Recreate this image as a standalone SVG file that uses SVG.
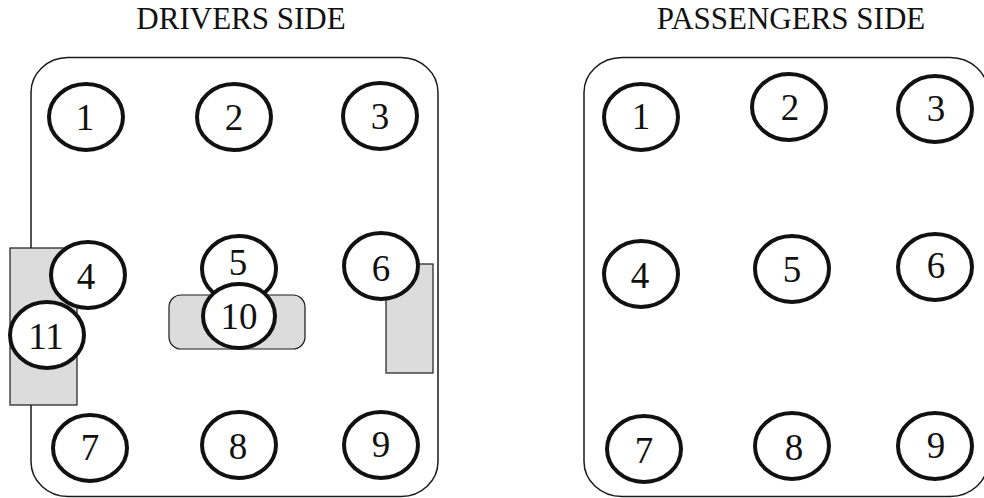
<svg xmlns="http://www.w3.org/2000/svg" width="984" height="498" viewBox="0 0 984 498">
<style>
.box{fill:#fff;stroke:#1a1a1a;stroke-width:1.5}
.pad{fill:#dcdcdc;stroke:#1a1a1a;stroke-width:1.2}
.c{fill:#fff;stroke:#111;stroke-width:4}
.n{font-family:"Liberation Serif","Times New Roman",serif;font-size:37px;fill:#111;text-anchor:middle}
.t{font-family:"Liberation Serif","Times New Roman",serif;font-size:31px;fill:#111;text-anchor:middle}
</style>
<rect width="984" height="498" fill="#fff"/>
<text class="t" x="241" y="29">DRIVERS SIDE</text>
<text class="t" x="791" y="29">PASSENGERS SIDE</text>
<g id="drivers">
<rect class="box" x="31" y="57.5" width="407" height="439" rx="37" ry="35"/>
<rect class="pad" x="10" y="248" width="67" height="157"/>
<rect class="pad" x="169" y="295" width="136" height="54" rx="12"/>
<rect class="pad" x="386" y="264" width="47" height="109"/>
<g id="d1"><ellipse class="c" cx="86" cy="117" rx="37" ry="33"/><text class="n" x="85" y="130">1</text></g>
<g id="d2"><ellipse class="c" cx="234" cy="117" rx="37" ry="33"/><text class="n" x="234" y="130">2</text></g>
<g id="d3"><ellipse class="c" cx="380" cy="116" rx="37" ry="33"/><text class="n" x="380" y="129">3</text></g>
<g id="d4"><ellipse class="c" cx="88" cy="275" rx="37" ry="33"/><text class="n" x="86" y="289">4</text></g>
<g id="d5"><ellipse class="c" cx="239" cy="269" rx="37" ry="33"/><text class="n" x="238" y="275">5</text></g>
<g id="d6"><ellipse class="c" cx="381" cy="266" rx="37" ry="33"/><text class="n" x="381" y="281">6</text></g>
<g id="d11"><ellipse class="c" cx="47" cy="335" rx="37" ry="33"/><text class="n" x="46" y="349">11</text></g>
<g id="d10"><ellipse class="c" cx="239" cy="316" rx="36" ry="32"/><text class="n" x="239" y="329">10</text></g>
<g id="d7"><ellipse class="c" cx="90" cy="448" rx="37" ry="33"/><text class="n" x="90" y="460">7</text></g>
<g id="d8"><ellipse class="c" cx="239" cy="445" rx="37" ry="33"/><text class="n" x="238" y="459">8</text></g>
<g id="d9"><ellipse class="c" cx="381" cy="445" rx="37" ry="33"/><text class="n" x="381" y="457">9</text></g>
</g>
<g id="passengers">
<rect class="box" x="584" y="57.5" width="404" height="439" rx="38" ry="35"/>
<g id="p1"><ellipse class="c" cx="641" cy="117" rx="37" ry="33"/><text class="n" x="641" y="129">1</text></g>
<g id="p2"><ellipse class="c" cx="789" cy="107" rx="37" ry="33"/><text class="n" x="790" y="120">2</text></g>
<g id="p3"><ellipse class="c" cx="935" cy="109" rx="37" ry="33"/><text class="n" x="936" y="121">3</text></g>
<g id="p4"><ellipse class="c" cx="641" cy="274" rx="37" ry="33"/><text class="n" x="640" y="288">4</text></g>
<g id="p5"><ellipse class="c" cx="792" cy="269" rx="37" ry="33"/><text class="n" x="792" y="282">5</text></g>
<g id="p6"><ellipse class="c" cx="935" cy="267" rx="37" ry="33"/><text class="n" x="936" y="278">6</text></g>
<g id="p7"><ellipse class="c" cx="644" cy="449" rx="37" ry="33"/><text class="n" x="644" y="463">7</text></g>
<g id="p8"><ellipse class="c" cx="792" cy="446" rx="37" ry="33"/><text class="n" x="794" y="460">8</text></g>
<g id="p9"><ellipse class="c" cx="935" cy="446" rx="37" ry="33"/><text class="n" x="936" y="458">9</text></g>
</g>
</svg>
